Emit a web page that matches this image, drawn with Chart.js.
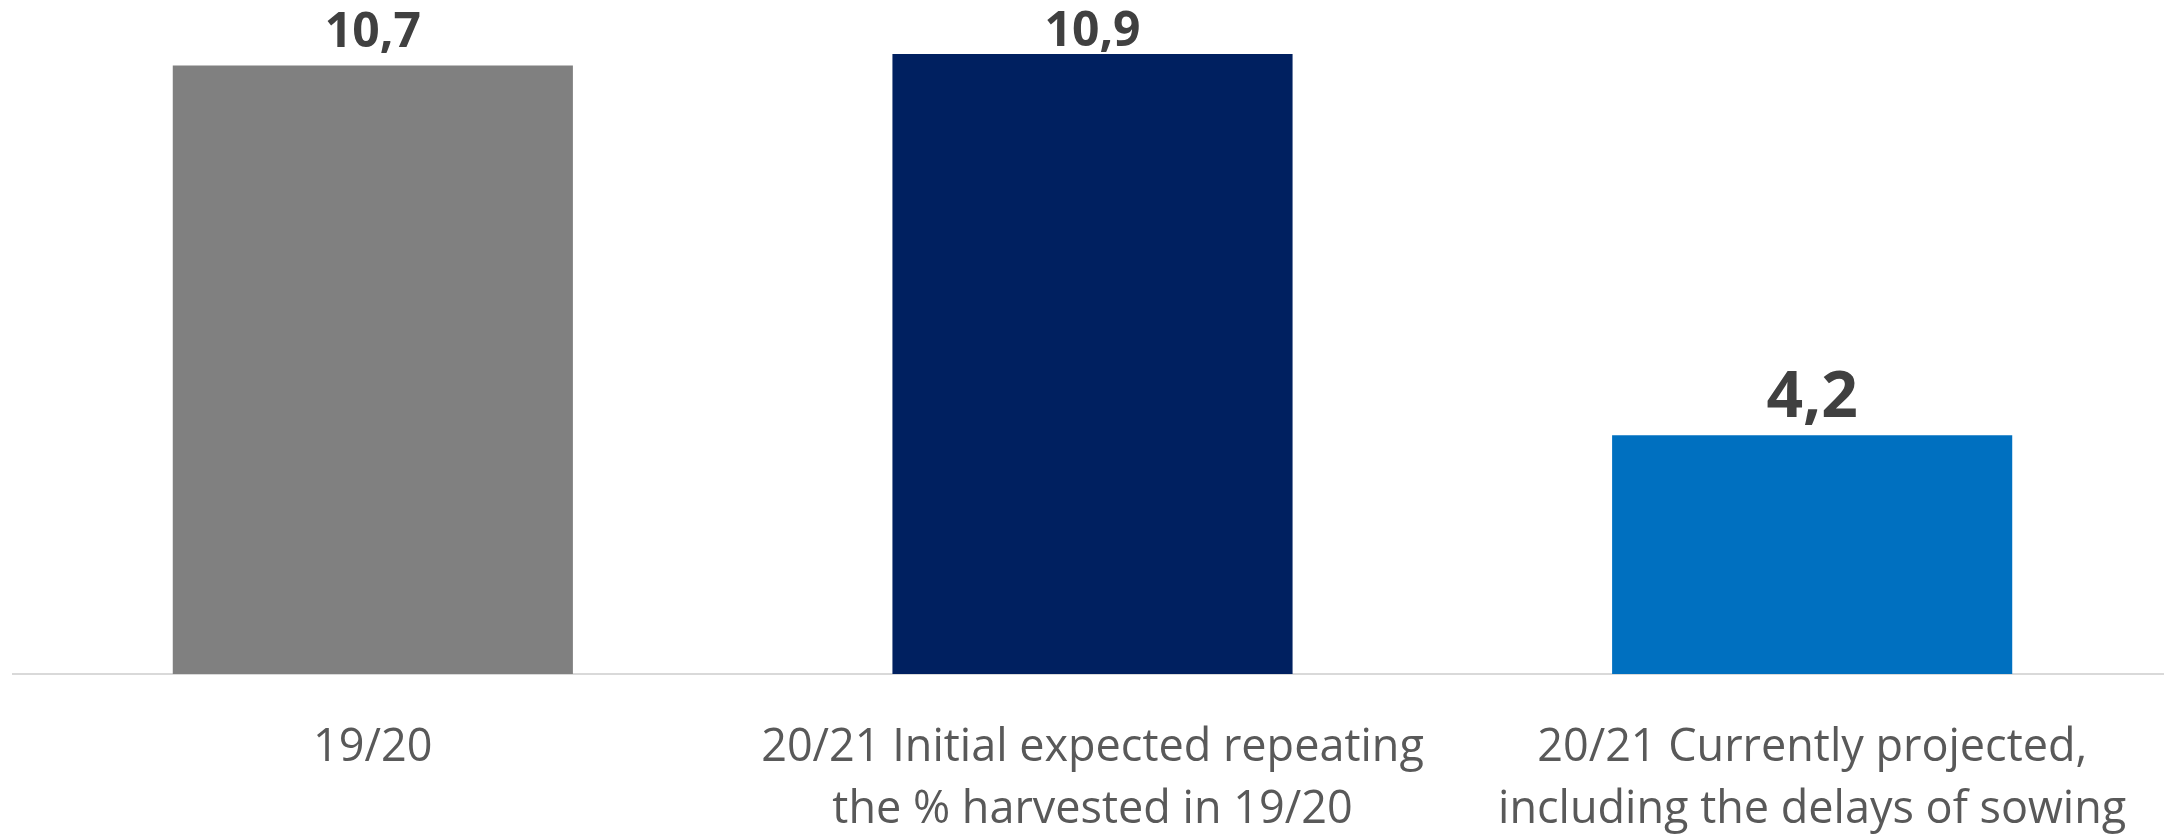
<!DOCTYPE html>
<html>
<head>
<meta charset="utf-8">
<script src="https://cdn.jsdelivr.net/npm/chart.js@4"></script>
<style>
  html, body { margin: 0; padding: 0; background: #fff; overflow: hidden; }
  #wrap { width: 2180px; height: 836px; }
</style>
</head>
<body>
<div id="wrap"><canvas id="crop"></canvas></div>
<script>
var labels = [
  ['19/20'],
  ['20/21 Initial expected repeating', 'the % harvested in 19/20'],
  ['20/21 Currently projected,', 'including the delays of sowing']
];
var values = [10.7, 10.9, 4.2];
var valueText = ['10,7', '10,9', '4,2'];
var colors = ['#808080', '#002060', '#0070C0'];

// value labels above the bars
var barLabels = {
  id: 'barLabels',
  afterDatasetsDraw: function(chart) {
    var ctx = chart.ctx;
    var meta = chart.getDatasetMeta(0);
    ctx.save();
    ctx.fillStyle = '#404040';
    ctx.textAlign = 'center';
    ctx.textBaseline = 'alphabetic';
    meta.data.forEach(function(bar, i) {
      var size = values[i] < 6 ? 64 : 48;
      ctx.font = 'bold ' + size + 'px "Open Sans"';
      var y = Math.max(bar.y - 18, 46);
      ctx.fillText(valueText[i], bar.x, y);
    });
    ctx.restore();
  }
};

var ctx = document.getElementById('crop').getContext('2d');
var chart = new Chart(ctx, {
  type: 'bar',
  data: {
    labels: labels,
    datasets: [{
      data: values,
      backgroundColor: colors,
      categoryPercentage: 1,
      barPercentage: 0.556
    }]
  },
  options: {
    responsive: true,
    maintainAspectRatio: false,
    animation: false,
    layout: { padding: { left: 13, right: 8, top: 20, bottom: 0 } },
    plugins: { legend: { display: false }, tooltip: { enabled: false } },
    scales: {
      x: {
        grid: { display: false, drawTicks: false },
        border: { display: true, color: '#d9d9d9', width: 2 },
        ticks: {
          color: '#595959',
          font: { family: '"Open Sans"', size: 45, lineHeight: 1.38 },
          padding: 43,
          maxRotation: 0,
          autoSkip: false
        },
        afterFit: function(scale) { scale.height = 162; }
      },
      y: {
        display: false,
        min: 0,
        max: 11.5
      }
    }
  },
  plugins: [barLabels]
});
</script>
</body>
</html>
